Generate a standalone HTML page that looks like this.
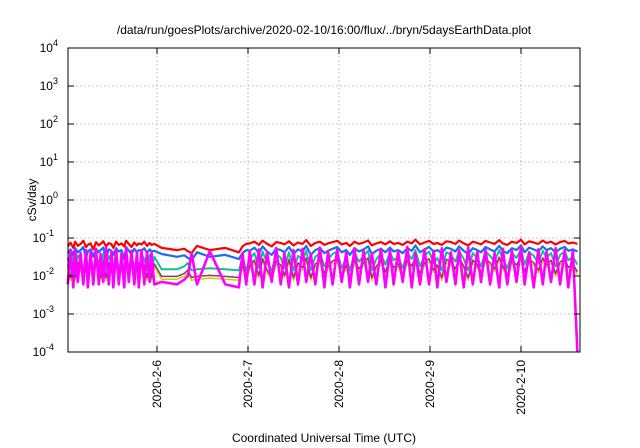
<!DOCTYPE html>
<html><head><meta charset="utf-8"><style>
body{margin:0;background:#fff;}
svg{display:block;font-family:"Liberation Sans",sans-serif;}
</style></head><body>
<svg id="chart" width="640" height="448" viewBox="0 0 640 448">
<text x="324" y="34" font-size="12" text-anchor="middle">/data/run/goesPlots/archive/2020-02-10/16:00/flux/../bryn/5daysEarthData.plot</text>
<text transform="translate(36,200) rotate(-90)" font-size="12" text-anchor="middle">cSv/day</text>
<text x="324" y="442" font-size="12" text-anchor="middle">Coordinated Universal Time (UTC)</text>
<g id="grid"></g><g id="series"></g><g id="axes"></g>
</svg>
<script>
const times=[0.02,0.05,0.08,0.10,0.13,0.16,0.19,0.22,0.24,0.27,0.30,0.33,0.36,0.38,0.41,0.44,0.47,0.50,0.52,0.55,0.58,0.61,0.64,0.66,0.69,0.72,0.75,0.78,0.80,0.83,0.86,0.89,0.92,0.94,0.97,
1.05,1.22,1.30,1.34,1.38,1.44,1.58,1.75,1.90,1.94,1.98,
2.02,2.07,2.12,2.16,2.21,2.26,2.31,2.36,2.40,2.45,2.50,2.55,2.60,2.64,2.69,2.74,2.79,2.84,2.88,2.93,2.98,3.03,3.08,3.12,3.17,3.22,3.27,3.32,3.36,3.41,3.46,3.51,3.56,3.60,3.65,3.70,3.75,3.80,3.84,3.89,3.94,3.99,4.04,4.08,4.13,4.18,4.23,4.28,4.32,4.37,4.42,4.47,4.52,4.56,4.61,4.66,4.71,4.76,4.80,4.85,4.90,4.95,5.00,5.04,5.09,5.14,5.19,5.24,5.28,5.33,5.38,5.43,5.48,5.52,5.57,5.62];
const redVals=[60,75,55,80,62,70,85,58,66,72,50,78,64,70,82,60,74,68,55,80,66,72,60,85,70,58,76,64,72,68,80,62,74,66,70,
55,48,52,45,40,62,48,55,42,60,70,
72,80,66,85,70,60,78,74,68,82,64,76,70,88,62,74,80,66,72,78,84,68,74,62,80,70,76,86,64,72,78,68,82,70,74,66,80,72,90,68,76,84,70,74,66,82,78,70,86,72,64,80,74,68,84,76,70,88,72,66,80,74,90,68,82,76,70,86,74,80,68,78,84,72,76,70];
const blueVals=[40,50,36,55,42,48,58,30,44,50,32,52,42,48,56,30,50,46,36,54,44,48,28,58,46,38,52,42,48,46,54,40,50,44,46,
38,32,35,30,26,42,32,36,28,40,48,
46,56,40,60,44,36,52,48,42,58,38,50,44,62,36,48,54,40,46,52,58,42,48,36,54,44,50,60,38,46,52,42,56,44,48,40,54,46,64,42,50,58,44,48,40,56,52,44,60,46,38,54,48,42,58,50,44,62,46,40,54,48,64,42,56,50,44,60,48,54,42,52,58,46,50,44];
const tealVals=[30,14,40,14,35,26,14,38,15,32,14,36,22,14,40,14,34,24,14,38,14,30,14,42,14,36,16,30,14,38,28,14,36,14,32,
15,15,18,22,14,15,16,15,14,30,14,
28,40,16,44,22,14,38,30,16,42,14,34,26,46,14,32,40,18,28,38,44,16,30,14,40,24,34,46,14,28,38,20,42,26,32,16,40,28,48,18,34,44,22,30,14,42,36,24,46,28,14,40,30,18,44,34,24,48,28,16,40,30,50,20,42,34,22,46,30,40,18,36,44,26,32,20];
const magVals=[6,45,5,50,7,40,6,48,5,42,6,52,6,38,7,55,6,44,5,50,6,40,5,55,7,46,6,42,5,48,6,44,7,40,6,
7,6,8,10,40,6,45,6,5,40,6,
45,6,50,5,42,7,55,6,40,5,48,6,52,7,38,6,56,5,44,6,50,7,42,5,54,6,46,7,40,6,52,5,48,6,44,7,58,5,40,6,50,6,46,5,54,7,42,6,48,5,56,6,44,7,50,6,40,5,52,6,46,7,58,6,42,5,50,6,44,7,54,6,48,5,46,0.1];
const yTickExps=[-4,-3,-2,-1,0,1,2,3,4];
const xTickLabels=["2020-2-6","2020-2-7","2020-2-8","2020-2-9","2020-2-10"];
const xTickDays=[1,2,3,4,5];

const L=68,R=580,T=48,B=352;
const xs=t=>66+t*91;
const ys=v=>B-(Math.log10(v)+4)*(B-T)/8;
const NS="http://www.w3.org/2000/svg";
function mk(tag,parent){const e=document.createElementNS(NS,tag);parent.appendChild(e);return e;}
const grid=document.getElementById('grid'),axes=document.getElementById('axes'),ser=document.getElementById('series');
yTickExps.forEach(e=>{
 const y=ys(Math.pow(10,e));
 if(e>-4&&e<4){const g=mk('line',grid);
 
 
 g.setAttribute('x1',L);g.setAttribute('x2',R);g.setAttribute('y1',y);g.setAttribute('y2',y);g.setAttribute('stroke','#bbb');g.setAttribute('stroke-dasharray','1.5,2.5');}
 [[L,L+6],[R,R-6]].forEach(p=>{const t=mk('line',axes);
 
 
 t.setAttribute('x1',p[0]);t.setAttribute('x2',p[1]);t.setAttribute('y1',y);t.setAttribute('y2',y);t.setAttribute('stroke','#000');});
 const tx=mk('text',axes);
 
 
 tx.setAttribute('x',e<0?54:58);tx.setAttribute('y',y+4);tx.setAttribute('font-size','12');tx.setAttribute('text-anchor','end');
 tx.textContent='10';
 const sp=mk('tspan',tx);sp.setAttribute('dy','-6');sp.setAttribute('font-size','9');sp.textContent=String(e);
});
xTickDays.forEach((d,i)=>{
 const x=xs(d);
 const g=mk('line',grid);
 
 
 g.setAttribute('x1',x);g.setAttribute('x2',x);g.setAttribute('y1',T);g.setAttribute('y2',B);g.setAttribute('stroke','#bbb');g.setAttribute('stroke-dasharray','1.5,2.5');
 [[B,B-6],[T,T+6]].forEach(p=>{const t=mk('line',axes);
 
 
 t.setAttribute('x1',x);t.setAttribute('x2',x);t.setAttribute('y1',p[0]);t.setAttribute('y2',p[1]);t.setAttribute('stroke','#000');});
 const tx=mk('text',axes);
 
 
 tx.setAttribute('transform',`translate(${x+4},${B+8}) rotate(-90)`);tx.setAttribute('font-size','12');tx.setAttribute('text-anchor','end');
 tx.textContent=xTickLabels[i];
});
const fr=mk('rect',axes);


fr.setAttribute('x',L);fr.setAttribute('y',T);fr.setAttribute('width',R-L);fr.setAttribute('height',B-T);fr.setAttribute('fill','none');fr.setAttribute('stroke','#000');
function line(vals,color,name,scale,w){
 const n=Math.min(vals.length,times.length);
 let d='';for(let i=0;i<n;i++){d+=(i?'L':'M')+xs(times[i]).toFixed(1)+','+ys(vals[i]*scale).toFixed(1);}
 const p=mk('path',ser);
 
 
 p.setAttribute('d',d);p.setAttribute('fill','none');p.setAttribute('stroke',color);p.setAttribute('stroke-width',w);p.setAttribute('stroke-linejoin','round');
}
const s=0.001;
line(redVals,'#ff0000','series-red',s,2.2);
line(tealVals.map(v=>v*0.55),'#d8c800','series-yellow',s,1.5);
line(tealVals.map(v=>v*0.65),'#8b3a6b','series-purple',s,1.5);
line(tealVals,'#10c090','series-teal',s,2);
line(blueVals,'#1a6cf0','series-blue',s,2.2);
line(magVals,'#ff00ff','series-magenta',s,2.6);
</script>
</body></html>
